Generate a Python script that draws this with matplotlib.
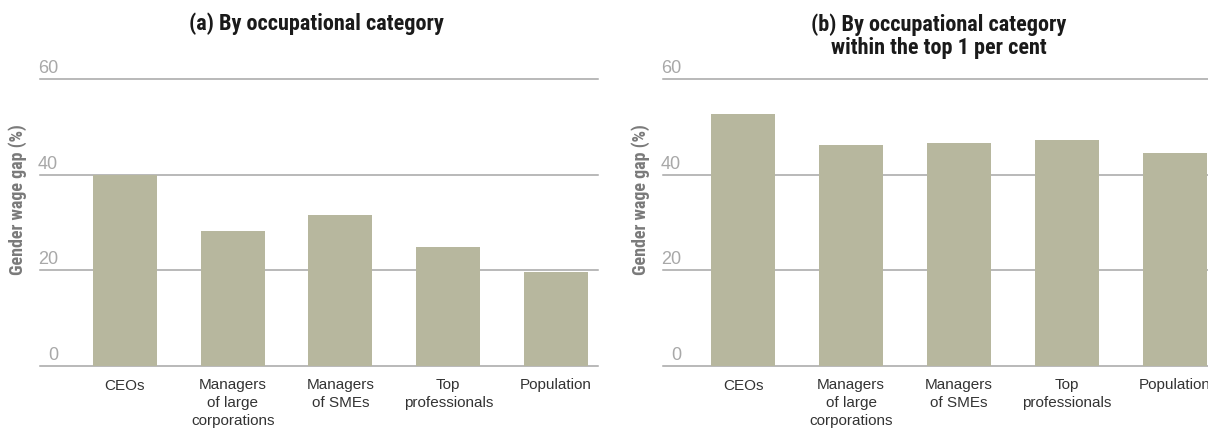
import matplotlib
matplotlib.use("Agg")
import matplotlib.pyplot as plt
import matplotlib.transforms as mtransforms
from matplotlib import font_manager

categories = ["CEOs", "Managers\nof large\ncorporations", "Managers\nof SMEs",
              "Top\nprofessionals", "Population"]
gap_all = [39.9, 28.2, 31.6, 24.9, 19.7]
gap_top1 = [52.7, 46.2, 46.6, 47.3, 44.5]
yticks = [0, 20, 40, 60]
titles = ["(a) By occupational category",
          "(b) By occupational category\nwithin the top 1 per cent"]
ylabel = "Gender wage gap (%)"

names = {f.name for f in font_manager.fontManager.ttflist}
narrow = None
for cand in ["Liberation Sans Narrow", "DejaVu Sans Condensed", "Roboto Condensed"]:
    if cand in names:
        narrow = cand
        break
regular = "Liberation Sans" if "Liberation Sans" in names else "DejaVu Sans"
if narrow is None:
    narrow = regular

BAR = "#b7b79e"
GRID = "#a6a6a6"

W, H = 1208, 430
fig = plt.figure(figsize=(W / 100, H / 100), dpi=100)

axes_px = [(40, 558, -0.787, 4.389), (663, 545, -0.741, 4.306)]
series = [gap_all, gap_top1]
title_x = [316, 939]

for (left, width, x0, x1), vals, title, tx in zip(axes_px, series, titles, title_x):
    ax = fig.add_axes([left / W, (H - 366) / H, width / W, (366 - 79) / H])
    ax.set_xlim(x0, x1)
    ax.set_ylim(0, 60)
    for s in ax.spines.values():
        s.set_visible(False)
    for v in yticks:
        ax.axhline(v, color=GRID, lw=1.1, zorder=0, clip_on=False)
    ax.bar(range(len(vals)), vals, width=0.593, color=BAR, zorder=2)
    ax.set_yticks([])
    ax.set_xticks(range(len(categories)))
    ax.set_xticklabels(categories, fontsize=11, color="#333333",
                       family=[regular, "DejaVu Sans"], linespacing=1.35)
    ax.tick_params(axis="x", length=0, pad=9)
    trans = mtransforms.offset_copy(ax.get_yaxis_transform(), fig=fig,
                                    x=18, y=6, units="dots")
    for v in yticks:
        ax.text(0, v, str(v), transform=trans, ha="right", va="baseline",
                fontsize=13, color="#a8a8a8", family=[regular, "DejaVu Sans"])
    fig.text(tx / W, 1 - (36 if "\n" in title else 24) / H, title,
             ha="center", va="center", fontsize=16, fontweight="bold",
             color="#1a1a1a", family=[narrow, "DejaVu Sans"], linespacing=1.05)
    fig.text((left - 22) / W, 1 - 200 / H, ylabel, rotation=90,
             ha="center", va="center", fontsize=13, fontweight="bold",
             color="#7a7a7a", family=[narrow, "DejaVu Sans"])

fig.savefig("out.png", dpi=100)
